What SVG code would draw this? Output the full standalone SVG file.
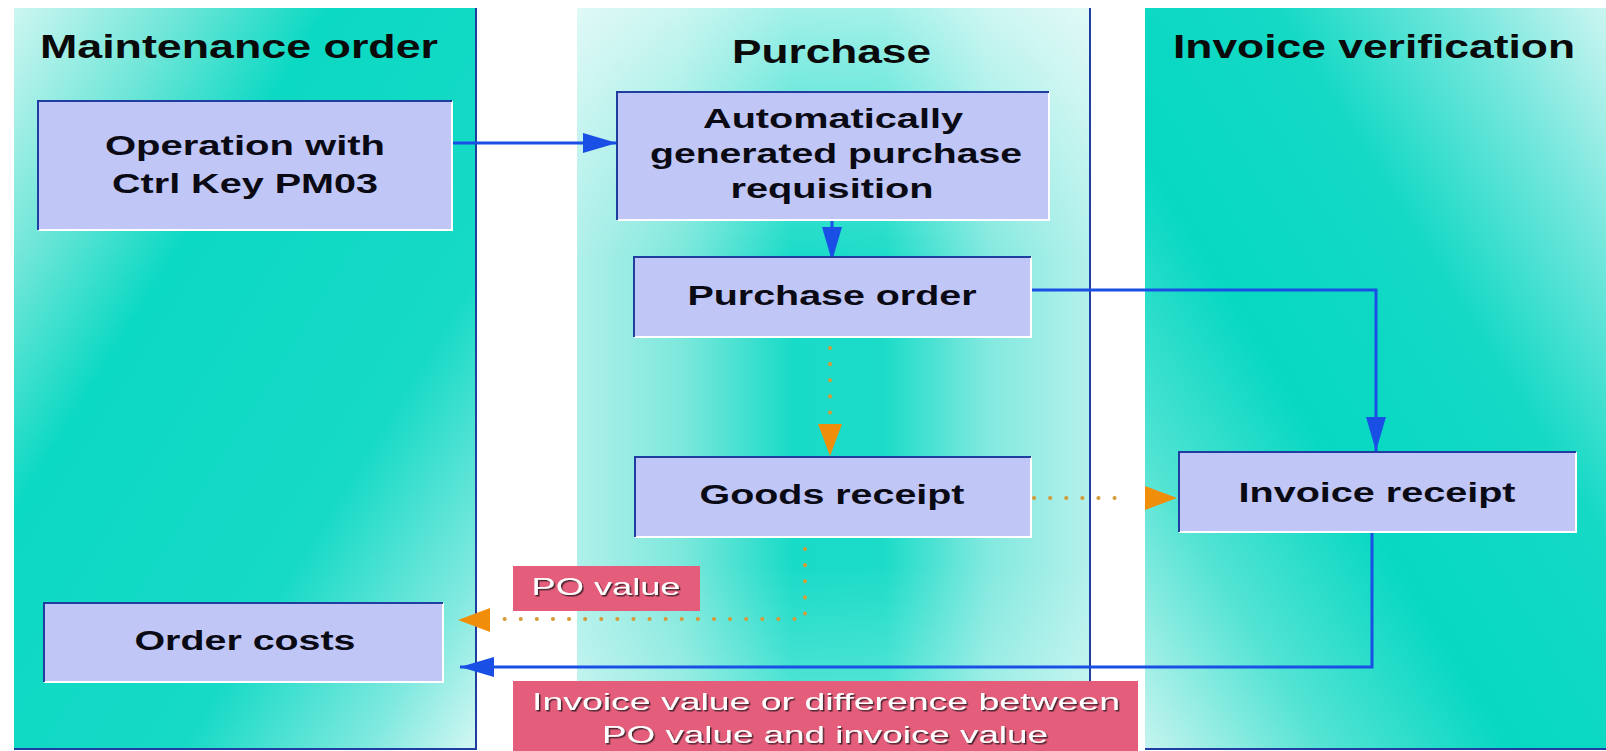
<svg xmlns="http://www.w3.org/2000/svg" width="1606" height="751" viewBox="0 0 1606 751">
  <defs>
    <!-- swimlane backgrounds -->
    <linearGradient id="gradMaint" x1="0" y1="0" x2="1" y2="1">
      <stop offset="0" stop-color="#CDF6F1"/>
      <stop offset="0.18" stop-color="#6FE6D8"/>
      <stop offset="0.34" stop-color="#0CD9C3"/>
      <stop offset="0.68" stop-color="#16DAC6"/>
      <stop offset="0.88" stop-color="#80E9DF"/>
      <stop offset="1" stop-color="#D4F7F3"/>
    </linearGradient>
    <linearGradient id="gradPurch" x1="0" y1="0" x2="1" y2="0">
      <stop offset="0" stop-color="#B0F0EA"/>
      <stop offset="0.2" stop-color="#7EE8DC"/>
      <stop offset="0.42" stop-color="#18DBC7"/>
      <stop offset="0.6" stop-color="#1CDCC8"/>
      <stop offset="0.8" stop-color="#82E9DF"/>
      <stop offset="1" stop-color="#B4F1EB"/>
    </linearGradient>
    <linearGradient id="gradPurchV" x1="0" y1="0" x2="0" y2="1">
      <stop offset="0" stop-color="#FFFFFF" stop-opacity="0.6"/>
      <stop offset="0.22" stop-color="#FFFFFF" stop-opacity="0.2"/>
      <stop offset="0.34" stop-color="#FFFFFF" stop-opacity="0"/>
      <stop offset="0.75" stop-color="#FFFFFF" stop-opacity="0"/>
      <stop offset="1" stop-color="#FFFFFF" stop-opacity="0.35"/>
    </linearGradient>
    <linearGradient id="gradInv" x1="0" y1="1" x2="1" y2="0">
      <stop offset="0" stop-color="#C6F4EF"/>
      <stop offset="0.2" stop-color="#52E3D3"/>
      <stop offset="0.4" stop-color="#06D8C2"/>
      <stop offset="0.64" stop-color="#14D9C5"/>
      <stop offset="0.84" stop-color="#76E7DD"/>
      <stop offset="1" stop-color="#CCF5F1"/>
    </linearGradient>

    <marker id="arrowBlue" markerUnits="userSpaceOnUse" markerWidth="36" markerHeight="22" refX="34" refY="10" orient="auto">
      <path d="M0 0 L34 10 L0 20 Z" fill="#1A4FE6"/>
    </marker>
    <marker id="arrowOrange" markerUnits="userSpaceOnUse" markerWidth="34" markerHeight="26" refX="32" refY="12" orient="auto">
      <path d="M0 0 L32 12 L0 24 Z" fill="#F08E0A"/>
    </marker>

    <filter id="shadow" x="-5%" y="-30%" width="110%" height="160%">
      <feDropShadow dx="1.5" dy="1.5" stdDeviation="0.6" flood-color="#2A1420" flood-opacity="0.85"/>
    </filter>
  </defs>

  <style>
    .title { font-family: "Liberation Sans", Arial, sans-serif; font-weight: bold; font-size: 33px; fill: #0A0A0A; }
    .ntext { font-family: "Liberation Sans", Arial, sans-serif; font-weight: bold; font-size: 27px; fill: #0A0A14; text-anchor: middle; }
    .ltext { font-family: "Liberation Sans", Arial, sans-serif; font-size: 24px; fill: #FFFFFF; text-anchor: middle; filter: url(#shadow); }
    .box { fill: #C0C6F6; }
    .hi { fill: none; stroke: #FFFFFF; stroke-width: 2; }
    .lo { fill: none; stroke: #1F3EA0; stroke-width: 2; }
    .label { fill: #E45E7C; }
    .border { fill: none; stroke: #1F3EA0; stroke-width: 2; }
    .blue { fill: none; stroke: #1A4FE6; stroke-width: 3; }
    .dots { fill: none; stroke: #D69A36; stroke-width: 4; stroke-dasharray: 0.1 16; stroke-linecap: round; }
  </style>

  <rect x="0" y="0" width="1606" height="751" fill="#FFFFFF"/>

  <!-- swimlanes -->
  <g id="lane-maintenance">
    <rect x="14" y="8" width="462" height="742" fill="url(#gradMaint)"/>
    <path class="border" d="M476 8 V749 H14"/>
    <text class="title" x="40" y="58" textLength="398" lengthAdjust="spacingAndGlyphs">Maintenance order</text>
  </g>
  <g id="lane-purchase">
    <rect x="577" y="8" width="513" height="742" fill="url(#gradPurch)"/>
    <rect x="577" y="8" width="513" height="742" fill="url(#gradPurchV)"/>
    <path class="border" d="M1090 8 V749"/>
    <text class="title" x="732" y="63" textLength="199" lengthAdjust="spacingAndGlyphs">Purchase</text>
  </g>
  <g id="lane-invoice">
    <rect x="1145" y="8" width="461" height="742" fill="url(#gradInv)"/>
    <path class="border" d="M1145 749 H1606"/>
    <text class="title" x="1173" y="58" textLength="402" lengthAdjust="spacingAndGlyphs">Invoice verification</text>
  </g>

  <!-- connectors -->
  <g id="connectors">
    <path class="blue" d="M440 143 H617" marker-end="url(#arrowBlue)"/>
    <path class="blue" d="M832 213 V261" marker-end="url(#arrowBlue)"/>
    <path class="blue" d="M1031 290 H1376 V451" marker-end="url(#arrowBlue)"/>
    <path class="dots" d="M830 348 V420"/>
    <path d="M830 424 V456" fill="none" stroke="none" marker-end="url(#arrowOrange)"/>
    <path class="dots" d="M1034 498 H1130"/>
    <path d="M1132 498 H1177" fill="none" stroke="none" marker-end="url(#arrowOrange)"/>
    <path class="dots" d="M805 549 V619 H504"/>
    <path d="M500 620 H458" fill="none" stroke="none" marker-end="url(#arrowOrange)"/>
    <path class="blue" d="M1372 532 V667 H460" marker-end="url(#arrowBlue)"/>
  </g>

  <!-- process steps -->
  <g id="node-operation">
    <rect class="box" x="38" y="101" width="414" height="129"/>
    <path class="hi" d="M38 230 H452 V101"/>
    <path class="lo" d="M38 230 V101 H452"/>
    <text class="ntext" x="245" y="155" textLength="280" lengthAdjust="spacingAndGlyphs">Operation with</text>
    <text class="ntext" x="245" y="193" textLength="266" lengthAdjust="spacingAndGlyphs">Ctrl Key PM03</text>
  </g>
  <g id="node-requisition">
    <rect class="box" x="617" y="92" width="432" height="128"/>
    <path class="hi" d="M617 220 H1049 V92"/>
    <path class="lo" d="M617 220 V92 H1049"/>
    <text class="ntext" x="833" y="128" textLength="260" lengthAdjust="spacingAndGlyphs">Automatically</text>
    <text class="ntext" x="836" y="163" textLength="372" lengthAdjust="spacingAndGlyphs">generated purchase</text>
    <text class="ntext" x="832" y="198" textLength="203" lengthAdjust="spacingAndGlyphs">requisition</text>
  </g>
  <g id="node-purchase-order">
    <rect class="box" x="634" y="257" width="397" height="80"/>
    <path class="hi" d="M634 337 H1031 V257"/>
    <path class="lo" d="M634 337 V257 H1031"/>
    <text class="ntext" x="832" y="305" textLength="289" lengthAdjust="spacingAndGlyphs">Purchase order</text>
  </g>
  <g id="node-goods-receipt">
    <rect class="box" x="635" y="457" width="396" height="80"/>
    <path class="hi" d="M635 537 H1031 V457"/>
    <path class="lo" d="M635 537 V457 H1031"/>
    <text class="ntext" x="832" y="504" textLength="265" lengthAdjust="spacingAndGlyphs">Goods receipt</text>
  </g>
  <g id="node-invoice-receipt">
    <rect class="box" x="1179" y="452" width="397" height="80"/>
    <path class="hi" d="M1179 532 H1576 V452"/>
    <path class="lo" d="M1179 532 V452 H1576"/>
    <text class="ntext" x="1377" y="502" textLength="277" lengthAdjust="spacingAndGlyphs">Invoice receipt</text>
  </g>
  <g id="node-order-costs">
    <rect class="box" x="44" y="603" width="399" height="79"/>
    <path class="hi" d="M44 682 H443 V603"/>
    <path class="lo" d="M44 682 V603 H443"/>
    <text class="ntext" x="245" y="650" textLength="221" lengthAdjust="spacingAndGlyphs">Order costs</text>
  </g>

  <!-- value labels -->
  <g id="label-po-value">
    <rect class="label" x="513" y="566" width="187" height="45"/>
    <text class="ltext" x="606" y="595" textLength="149" lengthAdjust="spacingAndGlyphs">PO value</text>
  </g>
  <g id="label-invoice-value">
    <rect class="label" x="513" y="681" width="625" height="70"/>
    <text class="ltext" x="826" y="710" textLength="588" lengthAdjust="spacingAndGlyphs">Invoice value or difference between</text>
    <text class="ltext" x="825" y="743" textLength="446" lengthAdjust="spacingAndGlyphs">PO value and invoice value</text>
  </g>
</svg>
